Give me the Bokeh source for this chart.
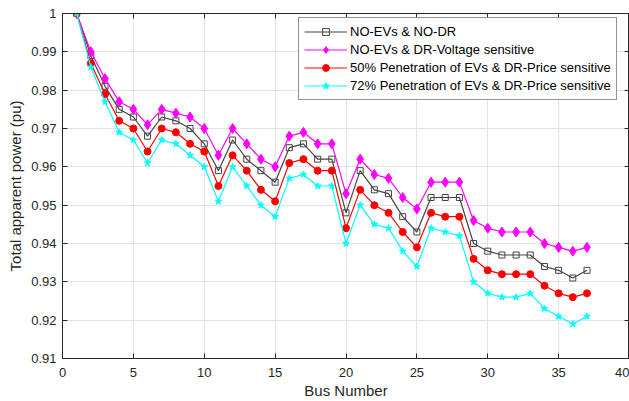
from bokeh.plotting import figure
from bokeh.models import Range1d, FixedTicker, NumeralTickFormatter, LinearAxis, CustomJSTickFormatter
from bokeh.embed import file_html
from bokeh.resources import INLINE

bus = list(range(1, 38))

no_ev_no_dr = [1.000, 0.989, 0.981, 0.975, 0.973, 0.968, 0.973, 0.972, 0.970, 0.966,
               0.959, 0.967, 0.962, 0.959, 0.956, 0.965, 0.966, 0.962, 0.962, 0.948,
               0.959, 0.954, 0.953, 0.947, 0.943, 0.952, 0.952, 0.952, 0.940, 0.938,
               0.937, 0.937, 0.937, 0.934, 0.933, 0.931, 0.933]

no_ev_dr_volt = [1.000, 0.990, 0.983, 0.977, 0.975, 0.971, 0.975, 0.974, 0.973, 0.970,
                 0.963, 0.970, 0.966, 0.962, 0.960, 0.968, 0.969, 0.966, 0.966, 0.953,
                 0.962, 0.958, 0.957, 0.952, 0.949, 0.956, 0.956, 0.956, 0.946, 0.944,
                 0.943, 0.943, 0.943, 0.940, 0.939, 0.938, 0.939]

ev50_dr_price = [1.000, 0.987, 0.979, 0.972, 0.970, 0.964, 0.970, 0.969, 0.966, 0.964,
                 0.955, 0.963, 0.959, 0.954, 0.951, 0.961, 0.962, 0.959, 0.959, 0.944,
                 0.954, 0.950, 0.948, 0.943, 0.939, 0.948, 0.947, 0.947, 0.936, 0.933,
                 0.932, 0.932, 0.932, 0.929, 0.927, 0.926, 0.927]

ev72_dr_price = [1.000, 0.986, 0.977, 0.969, 0.967, 0.961, 0.967, 0.966, 0.963, 0.960,
                 0.951, 0.960, 0.955, 0.950, 0.947, 0.957, 0.958, 0.955, 0.955, 0.940,
                 0.950, 0.945, 0.944, 0.938, 0.934, 0.944, 0.943, 0.942, 0.930, 0.927,
                 0.926, 0.926, 0.927, 0.923, 0.921, 0.919, 0.921]

labels = ["NO-EVs & NO-DR",
          "NO-EVs & DR-Voltage sensitive",
          "50% Penetration of EVs & DR-Price sensitive",
          "72% Penetration of EVs & DR-Price sensitive"]

x_ticks = [0, 5, 10, 15, 20, 25, 30, 35, 40]
y_ticks = [0.91, 0.92, 0.93, 0.94, 0.95, 0.96, 0.97, 0.98, 0.99, 1.0]

FONT = "Liberation Sans"
TXT = "#262626"

p = figure(width=629, height=401, output_backend="svg", toolbar_location=None,
           x_range=Range1d(0, 40), y_range=Range1d(0.91, 1.0),
           min_border_left=62, min_border_right=0, min_border_top=13, min_border_bottom=43)
p.background_fill_color = "white"
p.border_fill_color = "white"
p.outline_line_color = TXT
p.outline_line_width = 1

for ax in (p.xaxis[0], p.yaxis[0]):
    ax.major_label_text_font = FONT
    ax.major_label_text_font_size = "13px"
    ax.major_label_text_color = TXT
    ax.axis_label_text_font = FONT
    ax.axis_label_text_font_size = "15px"
    ax.axis_label_text_font_style = "normal"
    ax.axis_label_text_color = TXT
    ax.axis_line_color = TXT
    ax.major_tick_line_color = TXT
    ax.major_tick_in = 5
    ax.major_tick_out = 0
    ax.minor_tick_line_color = None

p.xaxis[0].ticker = FixedTicker(ticks=x_ticks)
p.yaxis[0].ticker = FixedTicker(ticks=y_ticks)
p.yaxis[0].formatter = NumeralTickFormatter(format="0.[00]")
p.xaxis[0].axis_label = "Bus Number"
p.yaxis[0].axis_label = "Total apparent power (pu)"
p.xaxis[0].major_label_standoff = 9
p.yaxis[0].major_label_standoff = 6
p.xaxis[0].axis_label_standoff = 2
p.yaxis[0].axis_label_standoff = 4

for side, tk in (("above", x_ticks), ("right", y_ticks)):
    ax = LinearAxis(ticker=FixedTicker(ticks=tk),
                    formatter=CustomJSTickFormatter(code="return ''"))
    ax.major_label_text_font_size = "1px"
    ax.major_label_standoff = 0
    ax.major_tick_in = 5
    ax.major_tick_out = 0
    ax.minor_tick_line_color = None
    ax.axis_line_color = TXT
    ax.major_tick_line_color = TXT
    p.add_layout(ax, side)

p.xgrid.ticker = FixedTicker(ticks=x_ticks)
p.ygrid.ticker = FixedTicker(ticks=y_ticks)
p.grid.grid_line_color = "#e3e3e3"
p.grid.grid_line_width = 1

series = [
    (no_ev_no_dr, "#454545", "square", 6, labels[0], None),
    (no_ev_dr_volt, "#ff00ff", "diamond", 10, labels[1], "#ff00ff"),
    (ev50_dr_price, "#ff0000", "circle", 7, labels[2], "#ff0000"),
    (ev72_dr_price, "#00ffff", "star", 7, labels[3], "#00ffff"),
]

for ys, col, mk, sz, lab, fill in series:
    p.line(bus, ys, line_color=col, line_width=1.2, legend_label=lab)
    p.scatter(bus, ys, marker=mk, size=sz, line_color=col, fill_color=fill,
              line_width=1, legend_label=lab)

lg = p.legend[0]
lg.location = (236, 258)
lg.label_text_font = FONT
lg.label_text_font_size = "13px"
lg.label_text_color = "black"
lg.border_line_color = TXT
lg.border_line_width = 1
lg.background_fill_color = "white"
lg.background_fill_alpha = 1
lg.glyph_width = 43
lg.glyph_height = 17
lg.label_height = 17
lg.label_standoff = 3
lg.spacing = 1
lg.padding = 5
lg.margin = 0

open("out.html", "w").write(file_html(p, INLINE))
